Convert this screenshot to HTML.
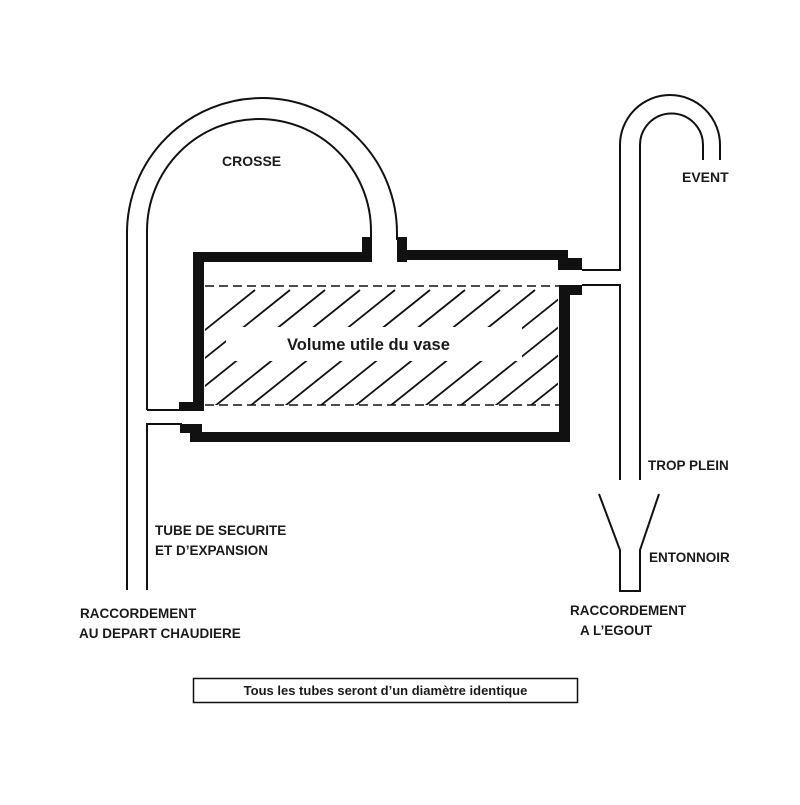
<!DOCTYPE html>
<html><head><meta charset="utf-8"><style>
html,body{margin:0;padding:0;background:#fff;}
svg text{font-family:"Liberation Sans",Arial,sans-serif;font-weight:bold;fill:#1a1a1a;}
</style></head><body>
<svg width="800" height="800" viewBox="0 0 800 800" xmlns="http://www.w3.org/2000/svg">
<defs>
<clipPath id="hc"><rect x="205" y="287" width="353" height="118"/></clipPath>
</defs>
<g fill="none" stroke="#111" stroke-width="2">
<!-- crosse -->
<path d="M127,590 L127,233 A135,135 0 0 1 397,233 L397,240"/>
<path d="M147,410 L147,231 A112,112 0 0 1 371,231 L371,240"/>
<path d="M147,410 L180,410"/>
<path d="M147,590 L147,424 L182,424"/>
<!-- vent -->
<path d="M582,270 L620,270 L620,145 A50,50 0 0 1 720,145 L720,160"/>
<path d="M640,480 L640,145 A31.5,31.5 0 0 1 703,145 L703,160"/>
<path d="M582,285 L620,285 L620,480"/>
<!-- funnel -->
<path d="M599,494 L620,550 L620,591 L640,591 L640,550 L659,494"/>
</g>
<!-- hatch -->
<g clip-path="url(#hc)" stroke="#111" stroke-width="1.8">
<g id="hl">
</g>
</g>
<g clip-path="url(#hc)" stroke="#111" stroke-width="1.8" fill="none">
<path d="M140,410 L290,290 M175,410 L325,290 M210,410 L360,290 M245,410 L395,290 M280,410 L430,290 M315,410 L465,290 M350,410 L500,290 M385,410 L535,290 M420,410 L570,290 M455,410 L605,290 M490,410 L640,290 M525,410 L675,290 M560,410 L710,290 M595,410 L745,290 M105,410 L255,290"/>
</g>
<rect x="226" y="327" width="296" height="34" fill="#fff"/>
<g stroke="#111" stroke-width="1.5" stroke-dasharray="9,5">
<line x1="205" y1="286" x2="560" y2="286"/>
<line x1="205" y1="405" x2="560" y2="405"/>
</g>
<!-- vase walls -->
<g fill="#111">
<rect x="193" y="252" width="179" height="10"/>
<rect x="362" y="237" width="10" height="25"/>
<rect x="397" y="237" width="10" height="25"/>
<rect x="397" y="250" width="171" height="10"/>
<rect x="558" y="258" width="24" height="12"/>
<rect x="193" y="252" width="11" height="158"/>
<rect x="179" y="402" width="25" height="9"/>
<rect x="180" y="424" width="22" height="9"/>
<rect x="190" y="432" width="380" height="10"/>
<rect x="559" y="285" width="23" height="10"/>
<rect x="559" y="285" width="11" height="157"/>
</g>
<text x="222" y="166" font-size="14">CROSSE</text>
<text x="682" y="182" font-size="14">EVENT</text>
<text x="287" y="350" font-size="16.5">Volume utile du vase</text>
<text x="648" y="470" font-size="13.5">TROP PLEIN</text>
<text x="649" y="562" font-size="13.5">ENTONNOIR</text>
<text x="155" y="535" font-size="13.5">TUBE DE SECURITE</text>
<text x="155" y="555" font-size="13.5">ET D’EXPANSION</text>
<text x="80" y="618" font-size="13.5">RACCORDEMENT</text>
<text x="79" y="638" font-size="13.5">AU DEPART CHAUDIERE</text>
<text x="570" y="615" font-size="13.5">RACCORDEMENT</text>
<text x="580" y="635" font-size="13.5">A L’EGOUT</text>
<rect x="193.5" y="678.5" width="384" height="24" fill="none" stroke="#111" stroke-width="1.5"/>
<text x="385.5" y="695" font-size="13" text-anchor="middle">Tous les tubes seront d’un diamètre identique</text>
</svg>
</body></html>
